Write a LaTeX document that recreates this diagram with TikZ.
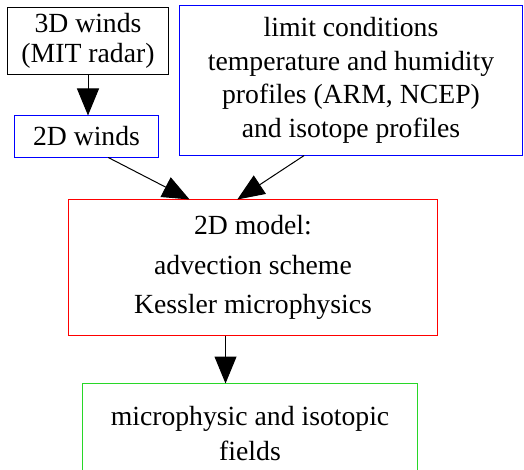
\documentclass[tikz,border=0pt]{standalone}
\usepackage{fontspec}
\setmainfont{Liberation Serif}
\usetikzlibrary{arrows.meta}
\definecolor{boxgreen}{RGB}{40,215,40}
\definecolor{boxblue}{RGB}{0,0,255}
\definecolor{boxred}{RGB}{255,0,0}
\begin{document}
\begin{tikzpicture}[x=1pt,y=-1pt]
          \tikzset{flow box/.style={draw=#1,rectangle,line width=1pt,inner sep=0pt,outer sep=0pt,align=center},
                   flow arrow/.style={line width=1pt,-{Triangle[length=27pt,width=22pt]}}}

          \clip (0,0) rectangle (524,470);

          \node [flow box = black, minimum width=161pt, minimum height=67pt,
                 font=\fontsize{27.7}{30}\selectfont] (winds3d) at (88,41) {3D winds\\(MIT radar)};
          \node [flow box = boxblue, minimum width=144pt, minimum height=42pt,
                 font=\fontsize{27.7}{33}\selectfont] (winds2d) at (86.5,136.5) {2D winds};
          \node [flow box = boxblue, minimum width=343pt, minimum height=150pt,
                 font=\fontsize{27.7}{33.5}\selectfont] (limits) at (351,80.5)
                 {limit conditions\\temperature and humidity\\profiles (ARM, NCEP)\\and isotope profiles};
          \node [flow box = boxred, minimum width=369pt, minimum height=136pt,
                 font=\fontsize{27.7}{39.5}\selectfont] (model) at (253,267.5)
                 {2D model:\\advection scheme\\Kessler microphysics};
          \node [flow box = boxgreen, minimum width=335pt, minimum height=100pt,
                 font=\fontsize{27.7}{35}\selectfont] (fields) at (250,433.5)
                 {microphysic and isotopic\\fields};

          \draw [flow arrow] (winds3d.south) -- (winds3d.south |- winds2d.north);
          \draw [flow arrow] (winds2d.-44) -- (model.133);
          \draw [flow arrow] (limits.-122) -- (model.103);
          \draw [flow arrow] (model.-112) -- (model.-112 |- fields.north);


        \end{tikzpicture}
\end{document}
